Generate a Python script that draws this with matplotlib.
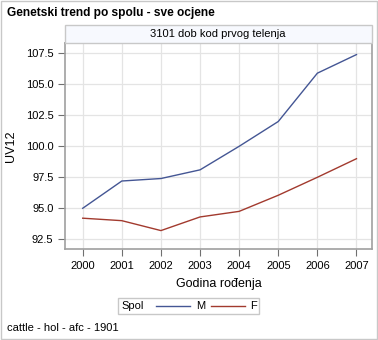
import matplotlib
matplotlib.use("Agg")
import matplotlib.pyplot as plt
from matplotlib.patches import Rectangle
from matplotlib.lines import Line2D

plt.rcParams['font.family'] = ['Liberation Sans', 'DejaVu Sans']

years = [2000, 2001, 2002, 2003, 2004, 2005, 2006, 2007]
uv12_m = [95.0, 97.2, 97.4, 98.1, 100.0, 102.0, 105.9, 107.4]
uv12_f = [94.2, 94.0, 93.2, 94.3, 94.75, 96.05, 97.5, 99.0]
y_ticks = [92.5, 95.0, 97.5, 100.0, 102.5, 105.0, 107.5]

col_m = '#445694'
col_f = '#A23A2E'
frame = '#a0a0a0'

W, H = 378, 340
fig = plt.figure(figsize=(W / 100, H / 100), dpi=100)

def fx(px):
    return px / W

def fy(py):
    return 1 - py / H

ax = fig.add_axes([fx(65.3), fy(249.3), fx(371.5) - fx(65.3), fy(43.3) - fy(249.3)])
ax.plot(years, uv12_m, color=col_m, lw=1.0)
ax.plot(years, uv12_f, color=col_f, lw=1.0)
ax.set_xlim(1999.555, 2007.384)
ax.set_ylim(91.69, 108.31)
ax.set_xticks(years)
ax.set_yticks(y_ticks)
ax.set_yticklabels([f'{v:.1f}' for v in y_ticks])
ax.grid(True, color='#e4e4e4', lw=0.9)
ax.set_axisbelow(True)
for s in ax.spines.values():
    s.set_color(frame)
    s.set_linewidth(1.2)
ax.tick_params(colors='#707070', labelcolor='black', labelsize=8, length=5, width=0.8)
ax.set_ylabel('UV12', fontsize=9, labelpad=6)
ax.set_xlabel('Godina rođenja', fontsize=9, labelpad=5)

# header strip
fig.add_artist(Rectangle((fx(65.3), fy(43.3)), fx(371.5) - fx(65.3), fy(25) - fy(43.3),
                         transform=fig.transFigure, facecolor='#f7f9fe',
                         edgecolor='#c8c8c8', lw=1))
fig.text(fx(218), fy(34), '3101 dob kod prvog telenja', ha='center', va='center', fontsize=8)

fig.text(fx(7), fy(13), 'Genetski trend po spolu - sve ocjene', ha='left', va='center',
         fontsize=8.6, fontweight='bold')

# legend
fig.add_artist(Rectangle((fx(118), fy(314)), fx(259) - fx(118), fy(298) - fy(314),
                         transform=fig.transFigure, facecolor='white',
                         edgecolor='#c8c8c8', lw=1))
fig.text(fx(121), fy(306), 'Spol', ha='left', va='center', fontsize=8)
fig.add_artist(Line2D([fx(156), fx(190)], [fy(306), fy(306)], color=col_m, lw=1))
fig.text(fx(196), fy(306), 'M', ha='left', va='center', fontsize=8)
fig.add_artist(Line2D([fx(211), fx(245)], [fy(306), fy(306)], color=col_f, lw=1))
fig.text(fx(250), fy(306), 'F', ha='left', va='center', fontsize=8)

fig.text(fx(7), fy(328), 'cattle - hol - afc - 1901', ha='left', va='center', fontsize=8)

fig.add_artist(Rectangle((fx(0.5), fy(338.5)), fx(377) - fx(0.5), fy(0.5) - fy(338.5),
                         transform=fig.transFigure, facecolor='none',
                         edgecolor='#c8c8c8', lw=1))

fig.savefig('out.png', dpi=100)
